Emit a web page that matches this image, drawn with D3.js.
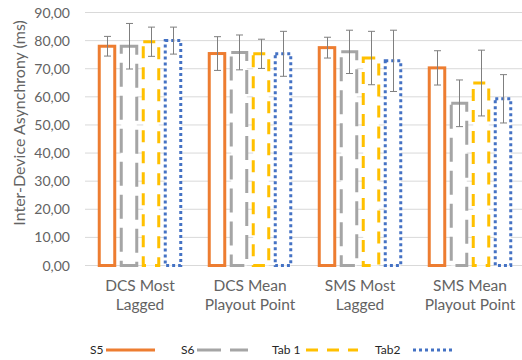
<!DOCTYPE html>
<html>
<head>
<meta charset="utf-8">
<script src="https://cdn.jsdelivr.net/npm/d3@7"></script>
<style>
  html, body { margin: 0; padding: 0; background: #fff; }
  svg { display: block; font-family: Lato, "Open Sans", sans-serif; }
</style>
</head>
<body>
<svg id="chart" width="522" height="360"></svg>
<script>
// Categories (two text lines each) and series
const categories = ["DCS Most Lagged", "DCS Mean Playout Point", "SMS Most Lagged", "SMS Mean Playout Point"];
const categoryLines = [["DCS Most", "Lagged"], ["DCS Mean", "Playout Point"], ["SMS Most", "Lagged"], ["SMS Mean", "Playout Point"]];
const seriesNames = ["S5", "S6", "Tab 1", "Tab2"];

// Mean inter-device asynchrony (ms)
const s5Values   = [78.0, 75.4, 77.5, 70.3];
const s6Values   = [78.0, 75.8, 76.0, 57.7];
const tab1Values = [79.6, 75.3, 73.8, 64.9];
const tab2Values = [80.0, 75.3, 72.8, 59.3];

// Error bar half-lengths (ms)
const s5Errors   = [3.5, 6.0, 3.7, 6.1];
const s6Errors   = [8.1, 6.2, 7.7, 8.3];
const tab1Errors = [5.2, 5.2, 9.5, 11.7];
const tab2Errors = [4.8, 8.0, 10.9, 8.6];

const yTicks = [0, 10, 20, 30, 40, 50, 60, 70, 80, 90];

const seriesValues = [s5Values, s6Values, tab1Values, tab2Values];
const seriesErrors = [s5Errors, s6Errors, tab1Errors, tab2Errors];
const seriesStyle = [
  { color: "#ED7D31", dash: null },
  { color: "#A5A5A5", dash: "24,9" },
  { color: "#FFC000", dash: "12,9" },
  { color: "#4472C4", dash: "3,3" }
];

const svg = d3.select("#chart");
const plotLeft = 85, plotRight = 525, plotTop = 12.5, plotBottom = 265.5;

const x0 = d3.scaleBand().domain(categories).range([plotLeft, plotRight]).paddingInner(0.2).paddingOuter(0.1);
const x1 = d3.scaleBand().domain(seriesNames).range([0, x0.bandwidth()]);
const y = d3.scaleLinear().domain([0, 90]).range([plotBottom, plotTop]);

const fmt = v => d3.format(".2f")(v).replace(".", ",");

// Gridlines
svg.append("g").selectAll("line").data(yTicks).join("line")
  .attr("x1", plotLeft).attr("x2", 522)
  .attr("y1", d => y(d)).attr("y2", d => y(d))
  .attr("stroke", "#D9D9D9").attr("stroke-width", 1);

// Y tick labels
svg.append("g").selectAll("text").data(yTicks).join("text")
  .attr("x", 70).attr("y", d => y(d))
  .attr("dy", "0.36em")
  .attr("text-anchor", "end")
  .attr("font-size", 14)
  .attr("fill", "#636363")
  .text(fmt);

// Y axis title
svg.append("text")
  .attr("transform", "translate(25,123) rotate(-90)")
  .attr("text-anchor", "middle")
  .attr("font-size", 16)
  .attr("fill", "#636363")
  .text("Inter-Device Asynchrony (ms)");

// Category labels
const catG = svg.append("g").selectAll("text").data(categories).join("text")
  .attr("text-anchor", "middle")
  .attr("font-size", 15.5)
  .attr("fill", "#636363")
  .attr("x", d => x0(d) + x0.bandwidth() / 2);
catG.each(function(d, i) {
  const t = d3.select(this);
  categoryLines[i].forEach((line, j) => {
    t.append("tspan")
      .attr("x", x0(d) + x0.bandwidth() / 2)
      .attr("y", 291 + j * 19)
      .text(line);
  });
});

// Bars
const strokeW = 3;
const barW = x1.bandwidth() - 6.5;
seriesNames.forEach((name, si) => {
  const st = seriesStyle[si];
  const g = svg.append("g");
  g.selectAll("rect").data(categories).join("rect")
    .attr("x", d => x0(d) + x1(name) + (x1.bandwidth() - barW) / 2)
    .attr("y", (d, i) => y(seriesValues[si][i]))
    .attr("width", barW)
    .attr("height", (d, i) => y(0) - y(seriesValues[si][i]))
    .attr("fill", "#fff")
    .attr("stroke", st.color)
    .attr("stroke-width", strokeW)
    .attr("stroke-dasharray", st.dash);
});

// Error bars
seriesNames.forEach((name, si) => {
  const g = svg.append("g").attr("stroke", "#7F7F7F").attr("stroke-width", 1).attr("fill", "none");
  categories.forEach((c, i) => {
    const cx = Math.round(x0(c) + x1(name) + x1.bandwidth() / 2) + 0.5;
    const v = seriesValues[si][i], e = seriesErrors[si][i];
    const yHi = y(v + e), yLo = y(v - e);
    g.append("line").attr("x1", cx).attr("x2", cx).attr("y1", yHi).attr("y2", yLo);
    g.append("line").attr("x1", cx - 3.5).attr("x2", cx + 3.5).attr("y1", yHi).attr("y2", yHi);
    g.append("line").attr("x1", cx - 3.5).attr("x2", cx + 3.5).attr("y1", yLo).attr("y2", yLo);
  });
});

// Legend
const legendItems = [
  { textX: 90, lineX1: 106, lineX2: 155 },
  { textX: 181, lineX1: 197, lineX2: 248 },
  { textX: 272, lineX1: 306, lineX2: 358 },
  { textX: 375, lineX1: 413, lineX2: 453 }
];
const legY = 350;
seriesNames.forEach((name, si) => {
  const li = legendItems[si];
  svg.append("text")
    .attr("x", li.textX).attr("y", legY).attr("dy", "0.36em")
    .attr("font-size", 12).attr("fill", "#262626")
    .text(name);
  svg.append("line")
    .attr("x1", li.lineX1).attr("x2", li.lineX2)
    .attr("y1", legY).attr("y2", legY)
    .attr("stroke", seriesStyle[si].color)
    .attr("stroke-width", 3)
    .attr("stroke-dasharray", seriesStyle[si].dash);
});
</script>
</body>
</html>
